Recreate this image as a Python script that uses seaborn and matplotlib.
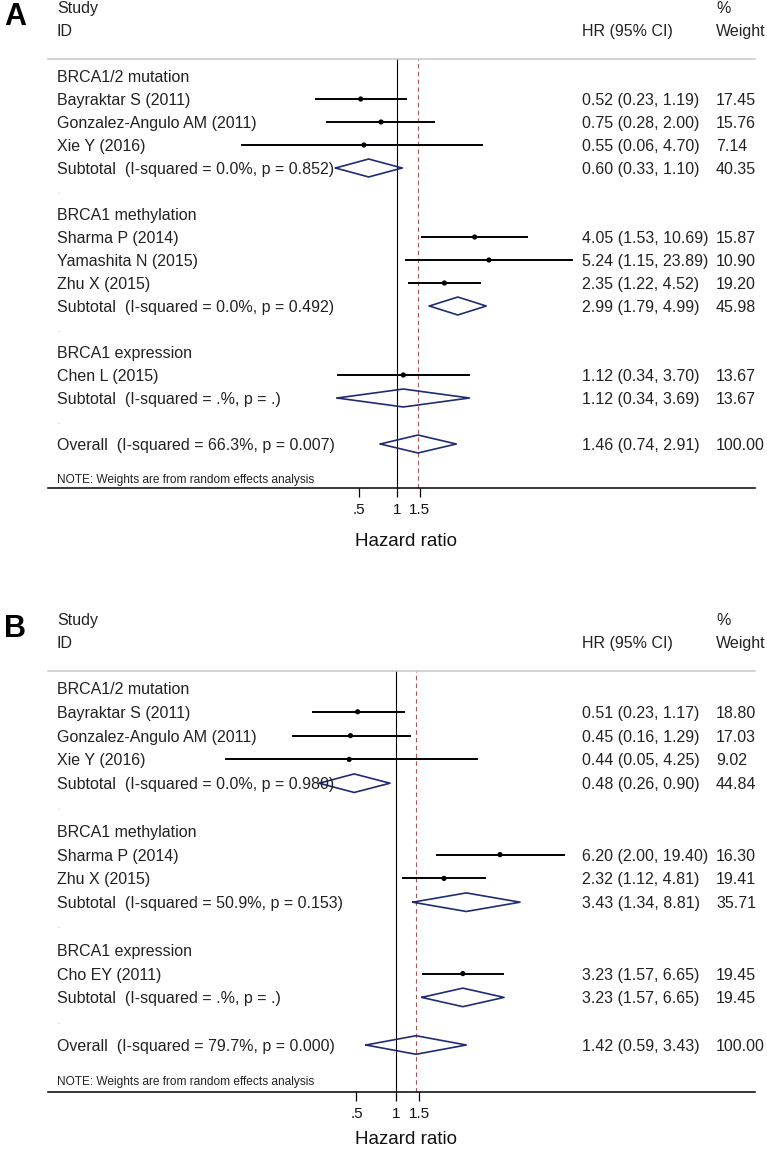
import numpy as np
import pandas as pd
import matplotlib
matplotlib.use("Agg")
import matplotlib.pyplot as plt
import seaborn as sns

# ---- panel A ----
labels_a = ["BRCA1/2 mutation", "Bayraktar S (2011)", "Gonzalez-Angulo AM (2011)", "Xie Y (2016)",
            "Subtotal  (I-squared = 0.0%, p = 0.852)", ".",
            "BRCA1 methylation", "Sharma P (2014)", "Yamashita N (2015)", "Zhu X (2015)",
            "Subtotal  (I-squared = 0.0%, p = 0.492)", ".",
            "BRCA1 expression", "Chen L (2015)", "Subtotal  (I-squared = .%, p = .)", ".",
            "Overall  (I-squared = 66.3%, p = 0.007)"]
kinds_a = ["group", "study", "study", "study", "sub", "blank",
           "group", "study", "study", "study", "sub", "blank",
           "group", "study", "sub", "blank", "overall"]
hr_a = [np.nan, 0.52, 0.75, 0.55, 0.60, np.nan, np.nan, 4.05, 5.24, 2.35, 2.99, np.nan,
        np.nan, 1.12, 1.12, np.nan, 1.46]
lo_a = [np.nan, 0.23, 0.28, 0.06, 0.33, np.nan, np.nan, 1.53, 1.15, 1.22, 1.79, np.nan,
        np.nan, 0.34, 0.34, np.nan, 0.74]
hi_a = [np.nan, 1.19, 2.00, 4.70, 1.10, np.nan, np.nan, 10.69, 23.89, 4.52, 4.99, np.nan,
        np.nan, 3.70, 3.69, np.nan, 2.91]
weight_a = [np.nan, 17.45, 15.76, 7.14, 40.35, np.nan, np.nan, 15.87, 10.90, 19.20, 45.98, np.nan,
            np.nan, 13.67, 13.67, np.nan, 100.00]

# ---- panel B ----
labels_b = ["BRCA1/2 mutation", "Bayraktar S (2011)", "Gonzalez-Angulo AM (2011)", "Xie Y (2016)",
            "Subtotal  (I-squared = 0.0%, p = 0.980)", ".",
            "BRCA1 methylation", "Sharma P (2014)", "Zhu X (2015)",
            "Subtotal  (I-squared = 50.9%, p = 0.153)", ".",
            "BRCA1 expression", "Cho EY (2011)", "Subtotal  (I-squared = .%, p = .)", ".",
            "Overall  (I-squared = 79.7%, p = 0.000)"]
kinds_b = ["group", "study", "study", "study", "sub", "blank",
           "group", "study", "study", "sub", "blank",
           "group", "study", "sub", "blank", "overall"]
hr_b = [np.nan, 0.51, 0.45, 0.44, 0.48, np.nan, np.nan, 6.20, 2.32, 3.43, np.nan,
        np.nan, 3.23, 3.23, np.nan, 1.42]
lo_b = [np.nan, 0.23, 0.16, 0.05, 0.26, np.nan, np.nan, 2.00, 1.12, 1.34, np.nan,
        np.nan, 1.57, 1.57, np.nan, 0.59]
hi_b = [np.nan, 1.17, 1.29, 4.25, 0.90, np.nan, np.nan, 19.40, 4.81, 8.81, np.nan,
        np.nan, 6.65, 6.65, np.nan, 3.43]
weight_b = [np.nan, 18.80, 17.03, 9.02, 44.84, np.nan, np.nan, 16.30, 19.41, 35.71, np.nan,
            np.nan, 19.45, 19.45, np.nan, 100.00]

tick_vals = [0.5, 1, 1.5]
tick_labels = [".5", "1", "1.5"]
note = "NOTE: Weights are from random effects analysis"

W, H = 767, 1150
sns.set_theme(style="white")
plt.rcParams["font.family"] = ["Liberation Sans", "DejaVu Sans"]

fig = plt.figure(figsize=(W / 100, H / 100), dpi=100)

NAVY = "#1f2c73"
RED = "#a5575a"
TXT = "#222222"


def px_x(p):
    return p / W


def px_y(p):
    return 1 - p / H


def forest(df, letter, top, bottom, row0, step, x1, k, title_off):
    # top/bottom = header line & axis line (px), x1 = px of HR=1, k = px per ln unit
    left, right = 48, 755
    ax = fig.add_axes([px_x(left), px_y(bottom), (right - left) / W, (bottom - top) / H])
    ax.set_xscale("log")
    ax.set_xlim(np.exp(-(x1 - left) / k), np.exp((right - x1) / k))
    ax.set_ylim((bottom - row0) / step, (top - row0) / step)

    overall = df.loc[df.kind == "overall", "hr"].iloc[0]
    ax.axvline(1, color="black", lw=0.8, zorder=1)
    ax.axvline(overall, color=RED, lw=0.8, ls=(0, (4, 3)), zorder=1)

    st = df[df.kind == "study"]
    ax.hlines(st.row, st.lo, st.hi, color="black", lw=1.4, zorder=2)
    sns.scatterplot(data=st, x="hr", y="row", ax=ax, color="black", s=14,
                    edgecolor="none", zorder=3, legend=False)

    dh = 0.39
    for _, r in df[df.kind.isin(["sub", "overall"])].iterrows():
        xs = [r.lo, r.hr, r.hi, r.hr, r.lo]
        ys = [r.row, r.row - dh, r.row, r.row + dh, r.row]
        ax.plot(xs, ys, color=NAVY, lw=1.2, zorder=3)

    tr = ax.get_yaxis_transform()
    span = right - left
    xl, xh, xw = (57 - left) / span, (582 - left) / span, (716 - left) / span
    for _, r in df.iterrows():
        if r.kind == "blank":
            ax.text(xl, r.row, ".", transform=tr, fontsize=6, color="#aaaaaa",
                    va="center_baseline")
            continue
        ax.text(xl, r.row, r.label, transform=tr, fontsize=11.5, va="center_baseline", color=TXT)
        if r.kind != "group":
            ax.text(xh, r.row, f"{r.hr:.2f} ({r.lo:.2f}, {r.hi:.2f})", transform=tr,
                    fontsize=11.5, va="center_baseline", color=TXT)
            ax.text(xw, r.row, f"{r.weight:.2f}", transform=tr, fontsize=11.5,
                    va="center_baseline", color=TXT)
    ax.text(xl, df.row.max() + 1.5, note, transform=tr, fontsize=8.6,
            va="center_baseline", color=TXT)

    # header
    fig.text(px_x(57), px_y(top - 52), "Study", fontsize=11.5, va="center_baseline", color=TXT)
    fig.text(px_x(57), px_y(top - 29), "ID", fontsize=11.5, va="center_baseline", color=TXT)
    fig.text(px_x(582), px_y(top - 29), "HR (95% CI)", fontsize=11.5, va="center_baseline", color=TXT)
    fig.text(px_x(716), px_y(top - 52), "%", fontsize=11.5, va="center_baseline", color=TXT)
    fig.text(px_x(716), px_y(top - 29), "Weight", fontsize=11.5, va="center_baseline", color=TXT)
    fig.text(px_x(15), px_y(top - 42), letter, fontsize=22, fontweight="bold",
             ha="center", va="center", color="black")
    fig.text(px_x(406), px_y(bottom + title_off), "Hazard ratio", fontsize=13.5, ha="center",
             va="center_baseline", color="#111111")

    for s in ["left", "right"]:
        ax.spines[s].set_visible(False)
    ax.spines["top"].set_color("#c8c8c8")
    ax.spines["top"].set_linewidth(1.1)
    ax.spines["bottom"].set_color("black")
    ax.spines["bottom"].set_linewidth(1.1)
    ax.set_yticks([])
    ax.set_xticks(tick_vals)
    ax.set_xticklabels(tick_labels)
    ax.minorticks_off()
    ax.tick_params(axis="x", which="major", direction="out", length=6.5, width=0.9,
                   color="black", labelsize=11, pad=4, bottom=True, labelcolor="#111111")
    ax.set_xlabel("")
    ax.set_ylabel("")
    ax.set_facecolor("white")
    return ax


df_a = pd.DataFrame({"label": labels_a, "kind": kinds_a, "hr": hr_a, "lo": lo_a,
                     "hi": hi_a, "weight": weight_a})
df_a["row"] = np.arange(len(df_a))
df_b = pd.DataFrame({"label": labels_b, "kind": kinds_b, "hr": hr_b, "lo": lo_b,
                     "hi": hi_b, "weight": weight_b})
df_b["row"] = np.arange(len(df_b))

forest(df_a, "A", top=59, bottom=488, row0=76, step=23.0, x1=397, k=55.5, title_off=52)
forest(df_b, "B", top=671, bottom=1092, row0=688, step=23.8, x1=396, k=57.0, title_off=46)

fig.savefig("out.png", dpi=100, facecolor="white")
